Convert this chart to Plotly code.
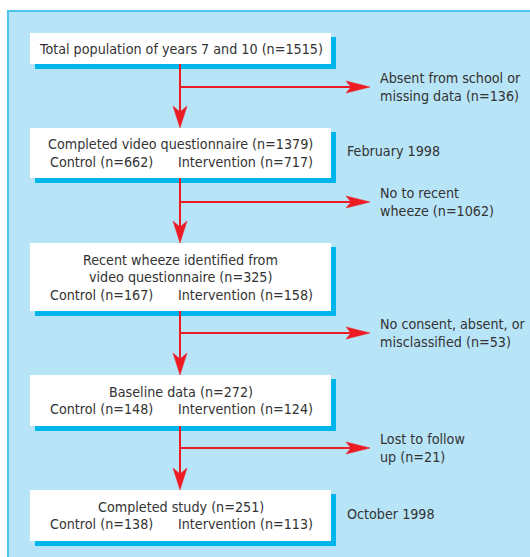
import plotly.graph_objects as go

# ---- data ----
box_titles = [
    "Total population of years 7 and 10",
    "Completed video questionnaire",
    "Recent wheeze identified from<br>video questionnaire",
    "Baseline data",
    "Completed study",
]
box_totals = [1515, 1379, 325, 272, 251]
control_n = [None, 662, 167, 148, 138]
intervention_n = [None, 717, 158, 124, 113]
exclusion_labels = [
    "Absent from school or<br>missing data",
    "No to recent<br>wheeze",
    "No consent, absent, or<br>misclassified",
    "Lost to follow<br>up",
]
exclusion_n = [136, 1062, 53, 21]
date_labels = {1: "February 1998", 4: "October 1998"}

# ---- layout geometry (page pixels) ----
PAGE_W, PAGE_H = 530, 557
box_x0, box_x1 = 30, 331
box_top = [33, 128, 243, 375, 490]
box_bot = [64, 178, 311, 426, 541]
branch_y = [87, 202, 333, 448]
trunk_x = 180
shadow = 5
line_h = 17.5

RED = "#ed1c24"
BG = "#b8e4f8"
BORDER = "#4cc4ef"
SHADOW = "#00b4ec"
TEXT = "#333333"
FONT = "Liberation Sans Narrow, Arial Narrow, DejaVu Sans Condensed, sans-serif"
FS = 14.2

shapes = []
annotations = []

# outer panel
shapes.append(dict(type="rect", x0=8, y0=11, x1=545, y1=575,
                   fillcolor=BG, line=dict(color=BORDER, width=2), layer="below"))

# boxes
for i in range(len(box_titles)):
    t, b = box_top[i], box_bot[i]
    shapes.append(dict(type="rect", x0=box_x0 + shadow, y0=t + 4, x1=box_x1 + shadow, y1=b + shadow,
                       fillcolor=SHADOW, line=dict(width=0)))
    shapes.append(dict(type="rect", x0=box_x0, y0=t, x1=box_x1, y1=b,
                       fillcolor="white", line=dict(width=0)))
    lines = box_titles[i].split("<br>")
    lines[-1] = lines[-1] + f" (n={box_totals[i]})"
    rows = [("c", l) for l in lines]
    if control_n[i] is not None:
        rows.append(("split", (f"Control (n={control_n[i]})", f"Intervention (n={intervention_n[i]})")))
    n = len(rows)
    cy = (t + b) / 2
    for k, (kind, txt) in enumerate(rows):
        y = cy + (k - (n - 1) / 2) * line_h
        if kind == "c":
            annotations.append(dict(x=(box_x0 + box_x1) / 2, y=y, text=txt, showarrow=False,
                                    xanchor="center", yanchor="middle"))
        else:
            annotations.append(dict(x=155, y=y, text=txt[0], showarrow=False,
                                    xanchor="right", yanchor="middle"))
            annotations.append(dict(x=176, y=y, text=txt[1], showarrow=False,
                                    xanchor="left", yanchor="middle"))
    if i in date_labels:
        annotations.append(dict(x=345, y=cy - 2, text=date_labels[i], showarrow=False,
                                xanchor="left", yanchor="middle"))

# vertical arrows between boxes
for i in range(len(box_titles) - 1):
    top_next = box_top[i + 1]
    shapes.append(dict(type="line", x0=trunk_x, x1=trunk_x, y0=box_bot[i], y1=top_next - 15,
                       line=dict(color=RED, width=2)))
    shapes.append(dict(type="path",
                       path=f"M {trunk_x} {top_next} L {trunk_x-7} {top_next-22} "
                            f"L {trunk_x} {top_next-16} L {trunk_x+7} {top_next-22} Z",
                       fillcolor=RED, line=dict(color=RED, width=0.5)))

# side branches
tip_x = 370
for j, y in enumerate(branch_y):
    shapes.append(dict(type="line", x0=trunk_x, x1=tip_x - 18, y0=y, y1=y,
                       line=dict(color=RED, width=2)))
    shapes.append(dict(type="path",
                       path=f"M {tip_x} {y} L {tip_x-24} {y-6} L {tip_x-19} {y} L {tip_x-24} {y+6} Z",
                       fillcolor=RED, line=dict(color=RED, width=0.5)))
    annotations.append(dict(x=378, y=y, text=f"{exclusion_labels[j]} (n={exclusion_n[j]})",
                            showarrow=False, xanchor="left", yanchor="middle", align="left"))

fig = go.Figure()
fig.update_layout(
    width=PAGE_W, height=PAGE_H,
    margin=dict(l=0, r=0, t=0, b=0),
    paper_bgcolor="white", plot_bgcolor="white",
    xaxis=dict(range=[0, PAGE_W], visible=False, fixedrange=True),
    yaxis=dict(range=[PAGE_H, 0], visible=False, fixedrange=True),
    shapes=shapes,
    annotations=annotations,
    font=dict(family=FONT, size=FS, color=TEXT),
    showlegend=False,
)
fig.write_html(
    "out.html",
    config={"displayModeBar": False},
    post_script="document.body.style.margin='0';document.body.style.overflow='hidden';",
)
